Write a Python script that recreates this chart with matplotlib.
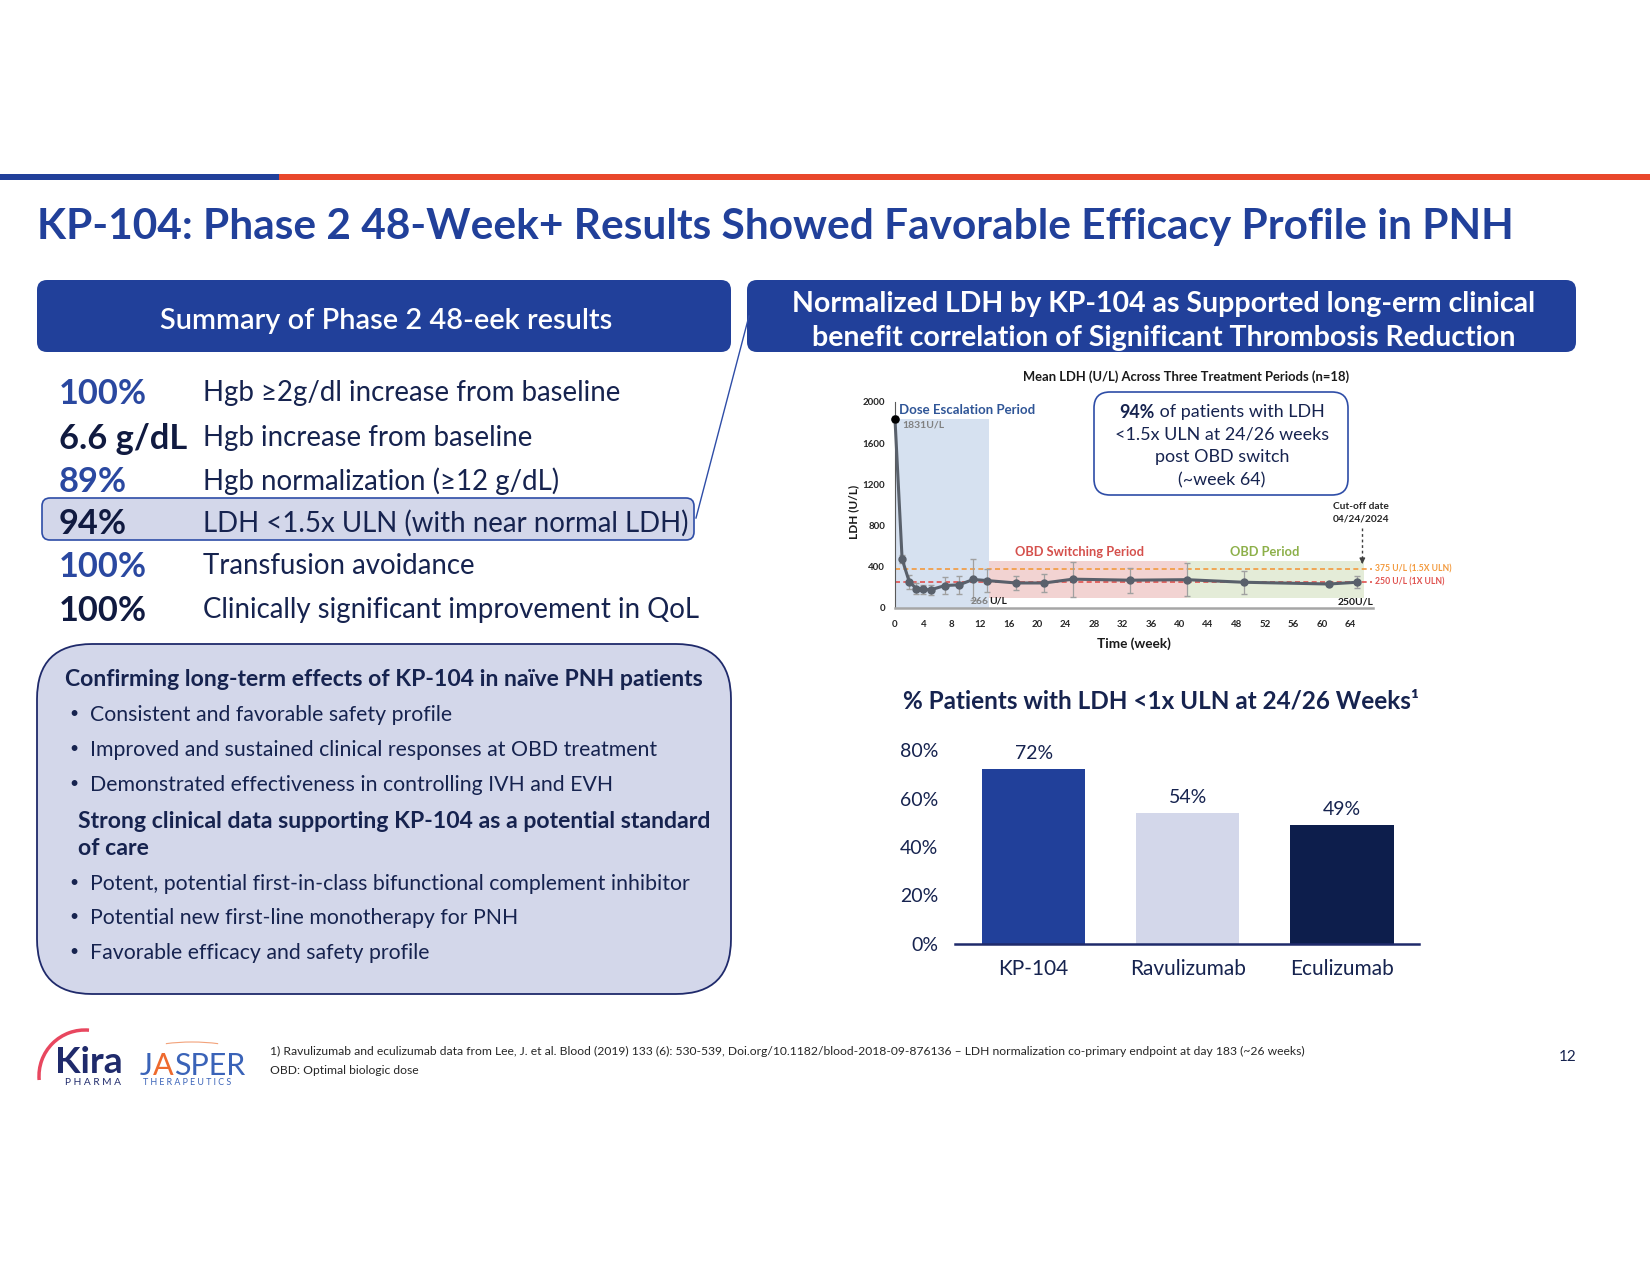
import matplotlib

matplotlib.use("Agg")
import matplotlib.pyplot as plt
import numpy as np
from matplotlib.patches import Arc, FancyBboxPatch, Rectangle

plt.rcParams["font.family"] = ["Lato", "DejaVu Sans"]

BLUE = "#21409A"
NAVY = "#16234F"
LAVENDER = "#D3D7EA"
RED_ORANGE = "#E9472B"

# --- texts ---
title = "KP-104: Phase 2 48-Week+ Results Showed Favorable Efficacy Profile in PNH"
left_header = "Summary of Phase 2 48-eek results"
right_header = ["Normalized LDH by KP-104 as Supported long-erm clinical",
                "benefit correlation of Significant Thrombosis Reduction"]

stat_values = ["100%", "6.6 g/dL", "89%", "94%", "100%", "100%"]
stat_labels = ["Hgb ≥2g/dl increase from baseline",
               "Hgb increase from baseline",
               "Hgb normalization (≥12 g/dL)",
               "LDH <1.5x ULN (with near normal LDH)",
               "Transfusion avoidance",
               "Clinically significant improvement in QoL"]

confirm_title = "Confirming long-term effects of KP-104 in naïve PNH patients"
confirm_points = ["Consistent and favorable safety profile",
                  "Improved and sustained clinical responses at OBD treatment",
                  "Demonstrated effectiveness in controlling IVH and EVH"]
support_title = ["Strong clinical data supporting KP-104 as a potential standard",
                 "of care"]
support_points = ["Potent, potential first-in-class bifunctional complement inhibitor",
                  "Potential new first-line monotherapy for PNH",
                  "Favorable efficacy and safety profile"]

# --- mean LDH over time ---
weeks = [0, 1, 2, 3, 4, 5, 7, 9, 11, 13, 17, 21, 25, 33, 41, 49, 61, 65]
ldh_mean = [1831, 474, 255, 189, 181, 176, 218, 225, 277, 266, 243, 243, 280, 270, 275, 250, 233, 250]
ldh_err = [30, 40, 70, 50, 45, 45, 80, 85, 200, 110, 70, 90, 170, 120, 160, 110, 20, 60]
week_ticks = list(range(0, 65, 4))
ldh_ticks = [0, 400, 800, 1200, 1600, 2000]

period_names = ["Dose Escalation Period", "OBD Switching Period", "OBD Period"]
period_start = [0, 13.2, 41.1]
period_end = [13.2, 41.1, 66]
period_low = [0, 95, 95]
period_high = [1831, 455, 455]

uln_levels = [375, 250]
uln_labels = ["375 U/L (1.5X ULN)", "250 U/L (1X ULN)"]
cutoff_week = 65.7

callout = ["94%", " of patients with LDH", "<1.5x ULN at 24/26 weeks", "post OBD switch", "(~week 64)"]

# --- % patients with LDH < 1x ULN ---
drugs = ["KP-104", "Ravulizumab", "Eculizumab"]
pct_normal = [72, 54, 49]
pct_ticks = [0, 20, 40, 60, 80]

footnotes = ["1) Ravulizumab and eculizumab data from Lee, J. et al. Blood (2019) 133 (6): 530-539, "
             "Doi.org/10.1182/blood-2018-09-876136 – LDH normalization co-primary endpoint at day 183 (~26 weeks)",
             "OBD: Optimal biologic dose"]

fig = plt.figure(figsize=(16.5, 12.75), dpi=100)
bg = fig.add_axes([0, 0, 1, 1])
bg.set_xlim(0, 1650)
bg.set_ylim(1275, 0)
bg.axis("off")
renderer = fig.canvas.get_renderer()


def put(x, y, s, size, color=NAVY, weight="normal", ha="left", width=None, **kw):
    # y is the visual middle of the letters, so shift a bit down from the bbox centre
    t = bg.text(x, y, s, fontsize=size, color=color, fontweight=weight, ha=ha, va="center", **kw)
    if width:
        t.set_fontsize(size * width / t.get_window_extent(renderer).width)
    if kw.get("rotation") is None:
        t.set_y(y + 0.12 * t.get_fontsize() * 100 / 72)
    return t


def box(x0, y0, x1, y1, r, fc, ec="none", lw=0):
    bg.add_patch(FancyBboxPatch((x0, y0), x1 - x0, y1 - y0,
                                boxstyle=f"round,pad=0,rounding_size={r}", fc=fc, ec=ec, lw=lw))


# --- top stripe + title ---
bg.add_patch(Rectangle((0, 174), 279, 6, color=BLUE, lw=0))
bg.add_patch(Rectangle((279, 174), 1371, 6, color=RED_ORANGE, lw=0))
put(37, 222, title, 28, color=BLUE, weight="bold", width=1476)

# --- headers ---
box(37, 280, 731, 352, 10, BLUE)
box(747, 280, 1576, 352, 10, BLUE)
put(386, 318, left_header, 18, color="white", weight="semibold", ha="center", width=452)
h = put(1164, 301, right_header[0], 18, color="white", weight="bold", ha="center", width=744)
put(1164, 335, right_header[1], h.get_fontsize(), color="white", weight="bold", ha="center")

# --- summary stats ---
box(42, 498, 694, 540, 8, LAVENDER, "#2E4DA7", 1.2)
bg.plot([696, 749], [518, 316], color="#2E4DA7", lw=1)
row_y = [390, 435, 478, 520, 563, 607]
value_colors = ["#2A48A0", "#101A40", "#2A48A0", "#101A40", "#2A48A0", "#101A40"]
s_lab = put(203, row_y[-1], stat_labels[-1], 20, width=498).get_fontsize()
s_val = put(59, row_y[1], stat_values[1], 20, color=value_colors[1], weight="bold", width=128).get_fontsize()
for i, (v, lab) in enumerate(zip(stat_values, stat_labels)):
    if i != len(stat_labels) - 1:
        put(203, row_y[i], lab, s_lab)
    if i != 1:
        put(59, row_y[i], v, s_val, color=value_colors[i], weight="bold")

# --- bottom-left box ---
box(37, 644, 731, 994, 55, LAVENDER, "#1F2A6B", 1.3)
s_head = put(65, 677, confirm_title, 15, weight="bold", width=640).get_fontsize()
s_bul = None
for y, line in zip([881, 915, 950], support_points):
    if s_bul is None:
        s_bul = put(90, y, line, 14, width=601).get_fontsize()
    else:
        put(90, y, line, s_bul)
    put(69, y, "•", s_bul * 0.75)
for y, line in zip([712, 747, 782], confirm_points):
    put(90, y, line, s_bul)
    put(69, y, "•", s_bul * 0.75)
for y, line in zip([819, 846], support_title):
    put(78, y, line, s_head, weight="bold")

# --- LDH chart ---
ax1 = fig.add_axes([895 / 1650, 1 - 608 / 1275, 478 / 1650, 206 / 1275])
ax1.patch.set_alpha(0)
period_fill = ["#D6E1F0", "#F2D3D2", "#E4ECD8"]
period_text = ["#2F5597", "#D5504C", "#8DB04A"]
for x0, x1, lo, hi, fc in zip(period_start, period_end, period_low, period_high, period_fill):
    ax1.add_patch(Rectangle((x0, lo), x1 - x0, hi - lo, fc=fc, lw=0, zorder=0))
for lvl, lab, col in zip(uln_levels, uln_labels, ["#F39A3E", "#E0524F"]):
    ax1.plot([0, 67], [lvl, lvl], ls=(0, (3, 2)), color=col, lw=1.2, clip_on=False, zorder=2)
    ax1.text(67.5, lvl, lab, color=col, fontsize=6.2, fontweight="bold", va="center", ha="left")
ax1.errorbar(weeks, ldh_mean, yerr=ldh_err, color="#59606B", lw=2.2, marker="o", ms=5,
             ecolor="#A0A0A0", elinewidth=0.9, capsize=2, zorder=3, clip_on=False)
ax1.plot(weeks[0], ldh_mean[0], "o", color="black", ms=5, zorder=4, clip_on=False)

ax1.text(0.6, 1920, period_names[0], color=period_text[0], fontsize=9.5, fontweight="bold", va="center")
ax1.text(25.9, 545, period_names[1], color=period_text[1], fontsize=9.3, fontweight="bold",
         va="center", ha="center")
ax1.text(52, 545, period_names[2], color=period_text[2], fontsize=9.3, fontweight="bold",
         va="center", ha="center")
ax1.text(1.0, 1775, f"{ldh_mean[0]}U/L", color="#808080", fontsize=7.5, fontweight="bold", va="center")
ax1.text(13.2, 65, f"{ldh_mean[9]}", color="#808080", fontsize=7.5, fontweight="bold", va="center", ha="right")
ax1.text(13.2, 65, "U/L", color="#1a1a1a", fontsize=7.5, fontweight="bold", va="center", ha="left")
ax1.text(67.3, 60, f"{ldh_mean[-1]}U/L", color="#1a1a1a", fontsize=7.5, fontweight="bold",
         va="center", ha="right")
ax1.text(cutoff_week - 0.2, 925, "Cut-off date\n04/24/2024", color="#262626", fontsize=7.3,
         fontweight="bold", va="center", ha="center", linespacing=1.4)
ax1.plot([cutoff_week, cutoff_week], [780, 470], ls=(0, (2, 2)), color="#404040", lw=1, clip_on=False)
ax1.annotate("", xy=(cutoff_week, 400), xytext=(cutoff_week, 480),
             arrowprops=dict(arrowstyle="-|>", color="#404040", lw=1, mutation_scale=8))

ax1.set_xlim(0, 67.2)
ax1.set_ylim(0, 2000)
ax1.set_xticks(week_ticks)
ax1.set_yticks(ldh_ticks)
ax1.tick_params(length=0, labelsize=7, colors="#262626")
ax1.tick_params(axis="x", pad=9)
ax1.tick_params(axis="y", pad=7)
for lab in ax1.get_xticklabels() + ax1.get_yticklabels():
    lab.set_fontweight("bold")
for side in ["top", "right"]:
    ax1.spines[side].set_visible(False)
ax1.spines["left"].set_color("#595959")
ax1.spines["bottom"].set_color("#A6A6A6")
ax1.spines["bottom"].set_linewidth(1.8)

put(1186, 375, "Mean LDH (U/L) Across Three Treatment Periods (n=18)", 9, color="#1a1a1a",
    weight="bold", ha="center", width=327)
put(854, 512, "LDH (U/L)", 8.5, color="#1a1a1a", weight="bold", ha="center", rotation=90)
put(1134, 642, "Time (week)", 9, color="#1a1a1a", weight="bold", ha="center", width=74)

# callout box
box(1094, 392, 1348, 495, 16, "white", "#2E4DA7", 1.2)
s_c = put(1222, 432.5, callout[2], 12, ha="center", width=211.5).get_fontsize()
put(1222, 455, callout[3], s_c, ha="center")
put(1222, 478, callout[4], s_c, ha="center")
a = put(0, 410, callout[0], s_c, weight="bold")
b = put(0, 410, callout[1], s_c)
wa = a.get_window_extent(renderer).width
wb = b.get_window_extent(renderer).width
a.set_x(1222 - (wa + wb) / 2)
b.set_x(1222 - (wa + wb) / 2 + wa)

# --- bar chart ---
ax2 = fig.add_axes([955 / 1650, 1 - 944 / 1275, 464 / 1650, 194 / 1275])
ax2.patch.set_alpha(0)
x = np.arange(len(drugs))
ax2.bar(x, pct_normal, width=0.67, color=[BLUE, LAVENDER, "#0D1E4C"])
for i, v in enumerate(pct_normal):
    ax2.annotate(f"{v}%", (x[i], v), xytext=(0, 11.5), textcoords="offset points",
                 ha="center", va="center", fontsize=14, color=NAVY)
ax2.set_xlim(-0.51, 2.5)
ax2.set_ylim(0, 80)
ax2.set_yticks(pct_ticks)
ax2.set_yticklabels([f"{p}%" for p in pct_ticks])
ax2.set_xticks(x)
ax2.set_xticklabels(drugs)
ax2.tick_params(length=0, colors=NAVY, labelsize=14)
ax2.tick_params(axis="x", pad=11, labelsize=15)
ax2.tick_params(axis="y", pad=12)
for side in ["top", "right", "left"]:
    ax2.spines[side].set_visible(False)
ax2.spines["bottom"].set_color("#1F2A6B")
ax2.spines["bottom"].set_linewidth(1.8)
put(903, 698, "% Patients with LDH <1x ULN at 24/26 Weeks¹", 16, weight="bold", width=517)

# --- footer ---
bg.add_patch(Arc((85, 1076), 92, 92, theta1=175, theta2=275, color="#E8475F", lw=2.5))
put(55, 1058, "Kira", 26, color="#1F2A6B", weight="bold", width=68)
put(65, 1081, "P H A R M A", 6, color="#1F2A6B", width=56)
bg.add_patch(Arc((192, 1062), 130, 40, theta1=215, theta2=325, color="#F2A27A", lw=0.8))
j = put(140, 1062, "J", 22, color="#3A63B8")
xa = 140 + j.get_window_extent(renderer).width
aa = put(xa, 1062, "A", j.get_fontsize(), color="#EE6A2E")
put(xa + aa.get_window_extent(renderer).width, 1062, "SPER", j.get_fontsize(), color="#3A63B8")
put(143, 1081, "T H E R A P E U T I C S", 6, color="#3A63B8", width=89)
f = put(270, 1050, footnotes[0], 8, color="#262626", width=1039)
put(270, 1069, footnotes[1], f.get_fontsize(), color="#262626")
put(1568, 1055, "12", 11, color=NAVY, ha="center")

fig.savefig("out.png", dpi=100)
